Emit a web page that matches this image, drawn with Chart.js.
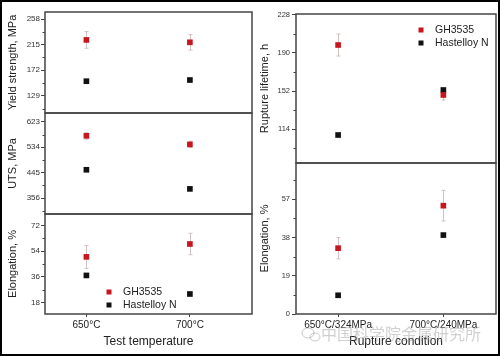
<!DOCTYPE html>
<html><head><meta charset="utf-8">
<script src="https://cdn.jsdelivr.net/npm/chart.js@4.4.0/dist/chart.umd.min.js"></script>
<style>
html,body{margin:0;padding:0;background:#fff;}
#wrap{position:relative;width:500px;height:356px;overflow:hidden;background:#fff;}
#wrap canvas{position:absolute;left:0;top:0;}
#frame{position:absolute;left:0;top:0;width:500px;height:356px;box-sizing:border-box;border:2px solid #000;pointer-events:none;}
</style></head><body>
<div id="wrap">
<canvas id="cL1" width="500" height="356"></canvas>
<canvas id="cL2" width="500" height="356"></canvas>
<canvas id="cL3" width="500" height="356"></canvas>
<canvas id="cR1" width="500" height="356"></canvas>
<canvas id="cR2" width="500" height="356"></canvas>
<div id="frame"></div>
</div>
<script>
// ---- data ----
const seriesNames = ['GH3535', 'Hastelloy N'];
const tempCats = ['650°C', '700°C'];
const ruptureCats = ['650°C/324MPa', '700°C/240MPa'];

const yieldGH = [223, 219];
const yieldGHErr = [14, 13];
const yieldHN = [153.5, 155.5];
const yieldTicks = [129, 172, 215, 258];
const yieldMinor = [107.5, 150.5, 193.5, 236.5];

const utsGH = [574, 544];
const utsGHErr = [12, 11];
const utsHN = [455, 388];
const utsTicks = [356, 445, 534, 623];
const utsMinor = [311.5, 400.5, 489.5, 578.5];

const elongGH = [50, 59];
const elongGHErr = [8, 7.5];
const elongHN = [37, 24];
const elongTicks = [18, 36, 54, 72];
const elongMinor = [27, 45, 63];

const lifeGH = [198, 148];
const lifeGHErr = [11, 5];
const lifeHN = [108, 153];
const lifeTicks = [114, 152, 190, 228];
const lifeMinor = [95, 133, 171, 209];

const rupElongGH = [32.7, 53.8];
const rupElongGHErr = [5.3, 7.6];
const rupElongHN = [9.3, 39.2];
const rupElongTicks = [0, 19, 38, 57];
const rupElongMinor = [9.5, 28.5, 47.5, 66.5];

const watermark = '中国科学院金属研究所';

// ---- style ----
const RED = '#c8161e';
const BLACK = '#111111';
const FRAME = '#454545';
const ERRC = '#d2c2c2';
const TXT = '#222222';
Chart.defaults.font.family = '"Liberation Sans", Arial, sans-serif';
Chart.defaults.color = TXT;

const panelPlugin = {
  id: 'panel',
  beforeDatasetsDraw(chart, args, o) {
    const ctx = chart.ctx, xs = chart.scales.x, ys = chart.scales.y;
    ctx.save();
    ctx.strokeStyle = ERRC; ctx.lineWidth = 1;
    chart.data.datasets.forEach(ds => {
      if (!ds.err) return;
      ds.data.forEach((p, i) => {
        const e = ds.err[i];
        const x = Math.round(xs.getPixelForValue(p.x)) + 0.5;
        const y1 = ys.getPixelForValue(p.y + e), y2 = ys.getPixelForValue(p.y - e);
        ctx.beginPath();
        ctx.moveTo(x, y1); ctx.lineTo(x, y2);
        ctx.moveTo(x - 2, y1); ctx.lineTo(x + 2, y1);
        ctx.moveTo(x - 2, y2); ctx.lineTo(x + 2, y2);
        ctx.stroke();
      });
    });
    ctx.restore();
  },
  afterDraw(chart, args, o) {
    const ctx = chart.ctx, a = chart.chartArea, ys = chart.scales.y;
    ctx.save();
    // minor ticks
    ctx.strokeStyle = FRAME; ctx.lineWidth = 1;
    (o.minor || []).forEach(v => {
      const y = Math.round(ys.getPixelForValue(v)) + 0.5;
      ctx.beginPath(); ctx.moveTo(a.left - 2.5, y); ctx.lineTo(a.left, y); ctx.stroke();
    });
    // frame
    ctx.strokeStyle = FRAME; ctx.lineWidth = 1.5;
    ctx.strokeRect(a.left, a.top, a.right - a.left, a.bottom - a.top);
    // legend
    if (o.legend) {
      const [lx, ly, tx] = o.legend;
      ctx.font = '10.5px "Liberation Sans", Arial, sans-serif';
      ctx.textBaseline = 'middle'; ctx.textAlign = 'left';
      [RED, BLACK].forEach((c, i) => {
        ctx.fillStyle = c;
        ctx.fillRect(lx - 2.5, ly + i * 13 - 2.5, 5, 5);
        ctx.fillStyle = TXT;
        ctx.fillText(seriesNames[i], tx, ly + i * 13 + 0.5);
      });
    }
    // watermark
    if (o.watermark) {
      const [wx, wy] = o.watermark;
      ctx.strokeStyle = 'rgba(150,150,150,0.5)'; ctx.lineWidth = 1;
      ctx.beginPath(); ctx.ellipse(wx - 13, wy - 1, 6, 5, 0, 0, Math.PI * 2); ctx.stroke();
      ctx.beginPath(); ctx.ellipse(wx - 6, wy + 3, 5, 4, 0, 0, Math.PI * 2); ctx.stroke();
      ctx.font = '16px "Noto Sans CJK SC", sans-serif';
      ctx.fillStyle = 'rgba(150,150,150,0.45)';
      ctx.textBaseline = 'middle'; ctx.textAlign = 'left';
      ctx.fillText(watermark, wx, wy);
    }
    ctx.restore();
  }
};

function makePanel(id, p) {
  const yAxisW = p.yAxisW;
  const xAxisH = p.xLabels ? 37 : 0;
  const pad = {
    left: p.rect[0] - yAxisW,
    top: p.rect[1],
    right: 500 - p.rect[2],
    bottom: 356 - p.rect[3] - xAxisH
  };
  const xScale = {
    type: 'linear', min: p.xMin, max: p.xMax, display: !!p.xLabels,
    afterBuildTicks: s => { s.ticks = p.xLabels ? p.xLabels.map((_, i) => ({ value: i })) : []; },
    ticks: {
      autoSkip: false, maxRotation: 0, padding: 2, color: TXT,
      font: { size: 10 },
      callback: (v, i) => p.xLabels ? p.xLabels[i] : ''
    },
    grid: { drawOnChartArea: false, drawTicks: true, tickLength: 3, color: FRAME, tickColor: FRAME },
    border: { display: false },
    title: { display: !!p.xTitle, text: p.xTitle, font: { size: 12 }, color: TXT, padding: { top: 0, bottom: 2 } }
  };
  if (p.xLabels) xScale.afterFit = s => { s.height = xAxisH; };
  new Chart(document.getElementById(id), {
    type: 'scatter',
    data: {
      datasets: [
        { label: seriesNames[0], data: p.gh.map((v, i) => ({ x: i, y: v })), err: p.ghErr,
          backgroundColor: RED, borderColor: RED, pointStyle: 'rect', pointRadius: 4, borderWidth: 0 },
        { label: seriesNames[1], data: p.hn.map((v, i) => ({ x: i, y: v })),
          backgroundColor: BLACK, borderColor: BLACK, pointStyle: 'rect', pointRadius: 4, borderWidth: 0 }
      ]
    },
    options: {
      responsive: false, animation: false, devicePixelRatio: 1, events: [],
      layout: { padding: pad },
      plugins: {
        legend: { display: false }, tooltip: { enabled: false },
        panel: { minor: p.minor, legend: p.legend, watermark: p.watermark }
      },
      scales: {
        x: xScale,
        y: {
          type: 'linear', min: p.yMin, max: p.yMax, bounds: 'data',
          afterBuildTicks: s => { s.ticks = p.ticks.map(v => ({ value: v })); },
          afterFit: s => { s.width = yAxisW; },
          ticks: { padding: p.tickPad, color: '#333', font: { size: p.tickSize },
                   callback: v => String(v) },
          grid: { drawOnChartArea: false, drawTicks: true, tickLength: 4, color: FRAME, tickColor: FRAME },
          border: { display: false },
          title: { display: true, text: p.yTitle, font: { size: 11 }, color: TXT, padding: { top: 6.4, bottom: 0 } }
        }
      }
    },
    plugins: [panelPlugin]
  });
}

const L = { yAxisW: 45, xMin: -0.4, xMax: 1.6, tickPad: 1, tickSize: 8 };
const R = { yAxisW: 44, xMin: -0.4, xMax: 1.5, tickPad: 2, tickSize: 7.5 };

makePanel('cL1', Object.assign({}, L, { rect: [45, 12, 252, 113], yMin: 100, yMax: 270,
  gh: yieldGH, ghErr: yieldGHErr, hn: yieldHN, ticks: yieldTicks, minor: yieldMinor,
  yTitle: 'Yield strength, MPa' }));
makePanel('cL2', Object.assign({}, L, { rect: [45, 113, 252, 214], yMin: 300, yMax: 654,
  gh: utsGH, ghErr: utsGHErr, hn: utsHN, ticks: utsTicks, minor: utsMinor,
  yTitle: 'UTS, MPa' }));
makePanel('cL3', Object.assign({}, L, { rect: [45, 214, 252, 314], yMin: 10, yMax: 80,
  gh: elongGH, ghErr: elongGHErr, hn: elongHN, ticks: elongTicks, minor: elongMinor,
  yTitle: 'Elongation, %', xLabels: tempCats, xTitle: 'Test temperature',
  legend: [109, 292, 123] }));
makePanel('cR1', Object.assign({}, R, { rect: [296, 14, 496, 163], yMin: 80, yMax: 229,
  gh: lifeGH, ghErr: lifeGHErr, hn: lifeHN, ticks: lifeTicks, minor: lifeMinor,
  yTitle: 'Rupture lifetime, h', legend: [421, 30, 435] }));
makePanel('cR2', Object.assign({}, R, { rect: [296, 163, 496, 314], yMin: 0, yMax: 75,
  gh: rupElongGH, ghErr: rupElongGHErr, hn: rupElongHN, ticks: rupElongTicks, minor: rupElongMinor,
  yTitle: 'Elongation, %', xLabels: ruptureCats, xTitle: 'Rupture condition',
  watermark: [321, 334] }));
</script>
</body></html>
